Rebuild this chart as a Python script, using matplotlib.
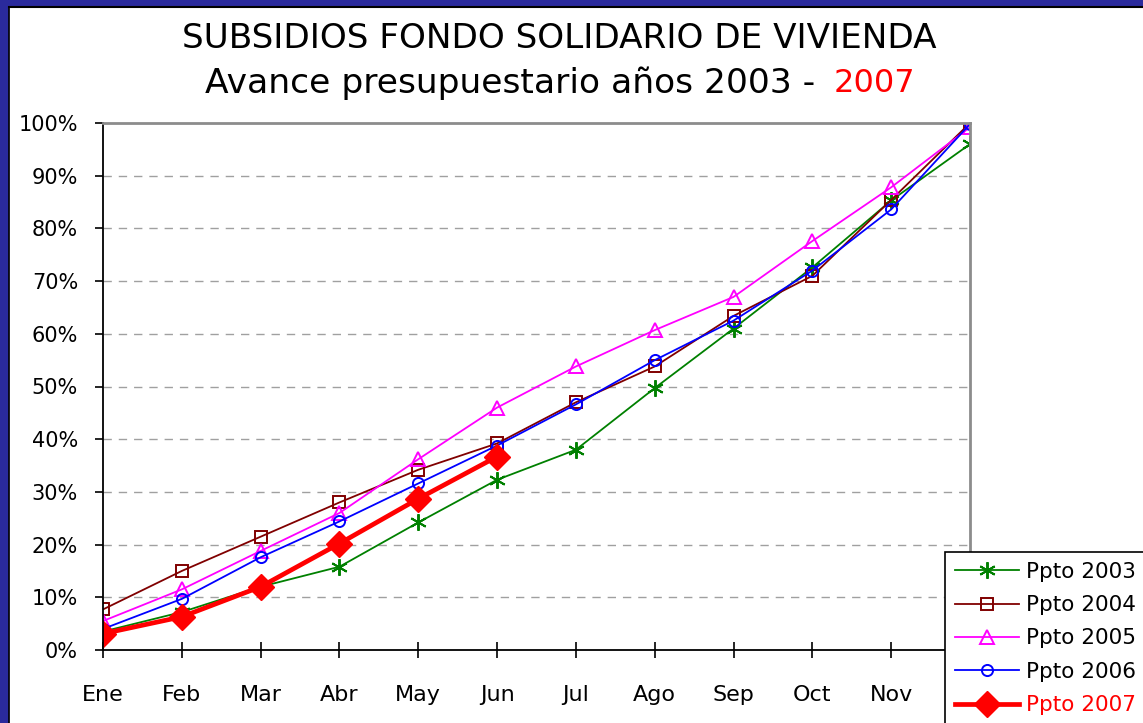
import matplotlib.pyplot as plt
from matplotlib.patches import Rectangle
from matplotlib.ticker import FuncFormatter

months = ["Ene", "Feb", "Mar", "Abr", "May", "Jun",
          "Jul", "Ago", "Sep", "Oct", "Nov", "Dic"]

ppto_2003 = [0.035, 0.072, 0.120, 0.158, 0.242, 0.323, 0.380, 0.497, 0.610, 0.726, 0.853, 0.960]
ppto_2004 = [0.077, 0.150, 0.215, 0.280, 0.342, 0.392, 0.470, 0.538, 0.634, 0.710, 0.854, 1.000]
ppto_2005 = [0.055, 0.115, 0.188, 0.260, 0.362, 0.460, 0.538, 0.607, 0.670, 0.776, 0.878, 0.992]
ppto_2006 = [0.040, 0.097, 0.176, 0.244, 0.316, 0.388, 0.466, 0.550, 0.625, 0.720, 0.836, 0.998]
ppto_2007 = [0.031, 0.063, 0.120, 0.202, 0.287, 0.367]

plt.rcParams['font.family'] = ['DejaVu Sans']

fig = plt.figure(figsize=(11.43, 7.23), dpi=100)
fig.patch.set_facecolor('white')

# blue frame of the slide
navy = '#2a2a9c'
fig.add_artist(Rectangle((0, 0), 8 / 1143, 1, transform=fig.transFigure, color=navy, zorder=0))
fig.add_artist(Rectangle((0, 1 - 6 / 723), 1, 6 / 723, transform=fig.transFigure, color=navy, zorder=0))
fig.add_artist(plt.Line2D([8.5 / 1143, 8.5 / 1143], [0, 1 - 6.5 / 723], transform=fig.transFigure, color='black', lw=1.2))
fig.add_artist(plt.Line2D([8.5 / 1143, 1], [1 - 6.5 / 723, 1 - 6.5 / 723], transform=fig.transFigure, color='black', lw=1.5))

ax = fig.add_axes([103 / 1143, 1 - 650 / 723, (970 - 103) / 1143, (650 - 123) / 723])
x = list(range(len(months)))

ax.plot(x, ppto_2003, color='#008000', lw=1.3, marker=(6, 2, 0), ms=12, mew=1.4, label='Ppto 2003')
ax.plot(x, ppto_2004, color='#800000', lw=1.3, marker='s', ms=8.5, mfc='none', mew=1.4, label='Ppto 2004')
ax.plot(x, ppto_2005, color='#ff00ff', lw=1.3, marker='^', ms=10, mfc='none', mew=1.4, label='Ppto 2005')
ax.plot(x, ppto_2006, color='#0000ff', lw=1.3, marker='o', ms=8, mfc='none', mew=1.4, label='Ppto 2006')
ax.plot(x[:len(ppto_2007)], ppto_2007, color='#ff0000', lw=3.4, marker='D', ms=13, label='Ppto 2007')

ax.set_xlim(0, 11)
ax.set_ylim(0, 1)
ax.set_xticks(x)
ax.set_xticklabels(months, fontsize=16)
ax.set_yticks([i / 10 for i in range(11)])
ax.yaxis.set_major_formatter(FuncFormatter(lambda v, p: f"{v * 100:.0f}%"))
ax.tick_params(axis='y', labelsize=15, direction='out', length=6, width=1.2, pad=12)
ax.tick_params(axis='x', direction='inout', length=12, width=1.2, pad=19)

for y in [i / 10 for i in range(1, 10)]:
    ax.axhline(y, color='#a0a0a0', lw=1, ls=(0, (6, 5)), zorder=0)

ax.spines['left'].set_color('black')
ax.spines['bottom'].set_color('black')
ax.spines['left'].set_linewidth(1.3)
ax.spines['bottom'].set_linewidth(1.3)
ax.spines['top'].set_color('#8c8c8c')
ax.spines['right'].set_color('#8c8c8c')
ax.spines['top'].set_linewidth(2)
ax.spines['right'].set_linewidth(2)

# titles
fig.text(559 / 1143, 1 - 38 / 723, "SUBSIDIOS FONDO SOLIDARIO DE VIVIENDA",
         ha='center', va='center', fontsize=24.7)
fig.text(826 / 1143, 1 - 83 / 723, "Avance presupuestario años 2003 - ",
         ha='right', va='center', fontsize=24.8)
fig.text(834 / 1143, 1 - 83 / 723, "2007", ha='left', va='center', fontsize=23, color='#ff0000')

leg = fig.legend(loc='upper left', bbox_to_anchor=(945 / 1143, 1 - 552 / 723),
                 fontsize=15.5, frameon=True, fancybox=False, edgecolor='black',
                 framealpha=1, handlelength=3.0, handletextpad=0.3, labelspacing=0.62,
                 borderpad=0.45, borderaxespad=0)
leg.get_frame().set_linewidth(1.2)
leg.set_zorder(10)
leg.get_texts()[-1].set_color('#ff0000')

fig.savefig('out.png', dpi=100)
